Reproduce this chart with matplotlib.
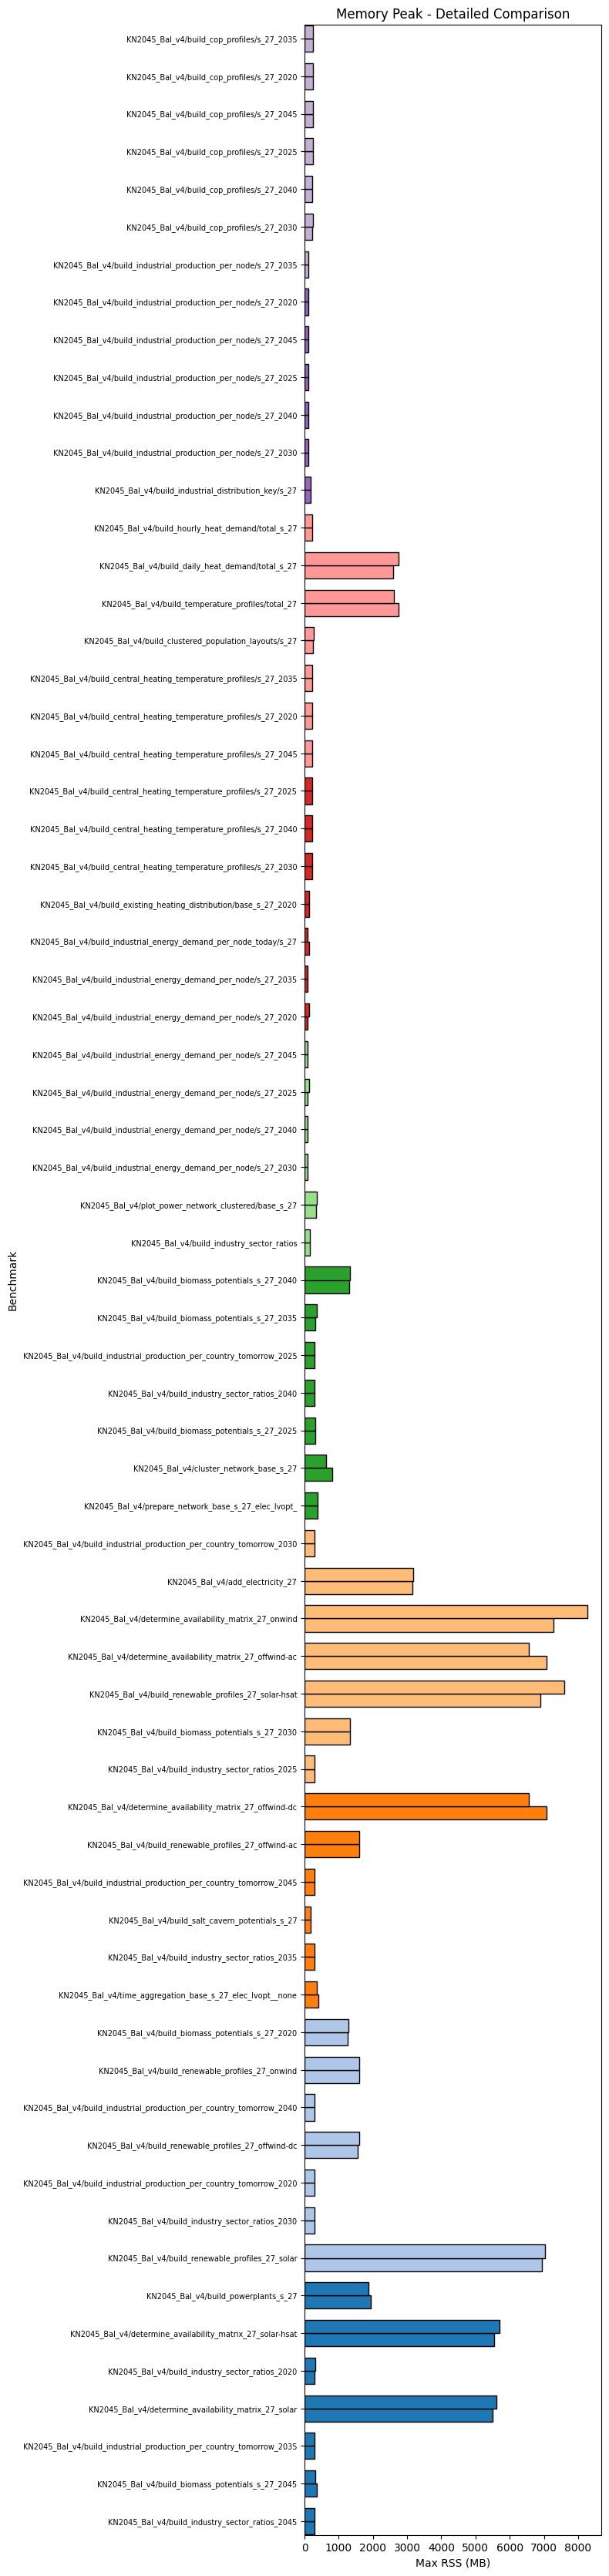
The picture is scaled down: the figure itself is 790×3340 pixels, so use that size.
"""
Memory peak comparison across snakemake benchmark rules (two runs per rule).
"""

import matplotlib

matplotlib.use("Agg")
import matplotlib.pyplot as plt  # noqa: E402
import numpy as np  # noqa: E402

PREFIX = "KN2045_Bal_v4/"

# benchmarks, listed from top of the chart to the bottom
benchmarks = [
    "build_cop_profiles/s_27_2035",
    "build_cop_profiles/s_27_2020",
    "build_cop_profiles/s_27_2045",
    "build_cop_profiles/s_27_2025",
    "build_cop_profiles/s_27_2040",
    "build_cop_profiles/s_27_2030",
    "build_industrial_production_per_node/s_27_2035",
    "build_industrial_production_per_node/s_27_2020",
    "build_industrial_production_per_node/s_27_2045",
    "build_industrial_production_per_node/s_27_2025",
    "build_industrial_production_per_node/s_27_2040",
    "build_industrial_production_per_node/s_27_2030",
    "build_industrial_distribution_key/s_27",
    "build_hourly_heat_demand/total_s_27",
    "build_daily_heat_demand/total_s_27",
    "build_temperature_profiles/total_27",
    "build_clustered_population_layouts/s_27",
    "build_central_heating_temperature_profiles/s_27_2035",
    "build_central_heating_temperature_profiles/s_27_2020",
    "build_central_heating_temperature_profiles/s_27_2045",
    "build_central_heating_temperature_profiles/s_27_2025",
    "build_central_heating_temperature_profiles/s_27_2040",
    "build_central_heating_temperature_profiles/s_27_2030",
    "build_existing_heating_distribution/base_s_27_2020",
    "build_industrial_energy_demand_per_node_today/s_27",
    "build_industrial_energy_demand_per_node/s_27_2035",
    "build_industrial_energy_demand_per_node/s_27_2020",
    "build_industrial_energy_demand_per_node/s_27_2045",
    "build_industrial_energy_demand_per_node/s_27_2025",
    "build_industrial_energy_demand_per_node/s_27_2040",
    "build_industrial_energy_demand_per_node/s_27_2030",
    "plot_power_network_clustered/base_s_27",
    "build_industry_sector_ratios",
    "build_biomass_potentials_s_27_2040",
    "build_biomass_potentials_s_27_2035",
    "build_industrial_production_per_country_tomorrow_2025",
    "build_industry_sector_ratios_2040",
    "build_biomass_potentials_s_27_2025",
    "cluster_network_base_s_27",
    "prepare_network_base_s_27_elec_lvopt_",
    "build_industrial_production_per_country_tomorrow_2030",
    "add_electricity_27",
    "determine_availability_matrix_27_onwind",
    "determine_availability_matrix_27_offwind-ac",
    "build_renewable_profiles_27_solar-hsat",
    "build_biomass_potentials_s_27_2030",
    "build_industry_sector_ratios_2025",
    "determine_availability_matrix_27_offwind-dc",
    "build_renewable_profiles_27_offwind-ac",
    "build_industrial_production_per_country_tomorrow_2045",
    "build_salt_cavern_potentials_s_27",
    "build_industry_sector_ratios_2035",
    "time_aggregation_base_s_27_elec_lvopt__none",
    "build_biomass_potentials_s_27_2020",
    "build_renewable_profiles_27_onwind",
    "build_industrial_production_per_country_tomorrow_2040",
    "build_renewable_profiles_27_offwind-dc",
    "build_industrial_production_per_country_tomorrow_2020",
    "build_industry_sector_ratios_2030",
    "build_renewable_profiles_27_solar",
    "build_powerplants_s_27",
    "determine_availability_matrix_27_solar-hsat",
    "build_industry_sector_ratios_2020",
    "determine_availability_matrix_27_solar",
    "build_industrial_production_per_country_tomorrow_2035",
    "build_biomass_potentials_s_27_2045",
    "build_industry_sector_ratios_2045",
]

# max RSS in MB, upper bar of each pair (run 2) and lower bar (run 1)
rss_run2 = [
    240, 240, 240, 240, 220, 240, 110, 110, 110, 110, 110, 110, 170, 220,
    2760, 2620, 260, 220, 220, 220, 220, 220, 220, 130, 100, 100, 125, 100,
    125, 100, 100, 350, 150, 1330, 350, 285, 285, 305, 625, 375, 285, 3170,
    8265, 6570, 7605, 1320, 285, 6570, 1590, 285, 170, 285, 350, 1295, 1590,
    285, 1610, 285, 285, 7040, 1860, 5710, 305, 5620, 285, 320, 285,
]
rss_run1 = [
    240, 240, 240, 240, 220, 220, 110, 110, 110, 110, 110, 110, 170, 220,
    2600, 2760, 240, 220, 220, 220, 220, 220, 220, 130, 125, 100, 100, 100,
    100, 100, 100, 330, 150, 1305, 310, 285, 285, 305, 815, 375, 285, 3145,
    7285, 7085, 6900, 1320, 285, 7085, 1590, 285, 170, 285, 400, 1270, 1610,
    285, 1565, 285, 285, 6950, 1930, 5550, 285, 5505, 285, 360, 285,
]

# colour blocks from the top: tab20 index and how many rows share it
COLOR_BLOCKS = [(9, 7), (8, 6), (7, 7), (6, 7), (5, 6),
                (4, 7), (3, 7), (2, 6), (1, 7), (0, 7)]


def main():
    n = len(benchmarks)
    tab20 = plt.get_cmap("tab20").colors
    colors = []
    for idx, count in COLOR_BLOCKS:
        colors += [tab20[idx]] * count

    y = np.arange(n)[::-1]  # first benchmark on top
    h = 0.35

    fig = plt.figure(figsize=(7.9, 33.4), dpi=100)
    ax = fig.add_axes([395 / 790, 53 / 3340, 385 / 790, 3255 / 3340])

    ax.barh(y - h / 2, rss_run1, h, color=colors, edgecolor="black", linewidth=1)
    ax.barh(y + h / 2, rss_run2, h, color=colors, edgecolor="black", linewidth=1)

    ax.set_yticks(y)
    ax.set_yticklabels([PREFIX + b for b in benchmarks], fontsize=7)
    ax.set_ylim(-0.37, n - 1 + 0.37)
    ax.set_xlabel("Max RSS (MB)")
    ax.set_ylabel("Benchmark")
    ax.set_title("Memory Peak - Detailed Comparison")

    fig.savefig("out.png", dpi=100)
    plt.close(fig)


if __name__ == "__main__":
    main()
